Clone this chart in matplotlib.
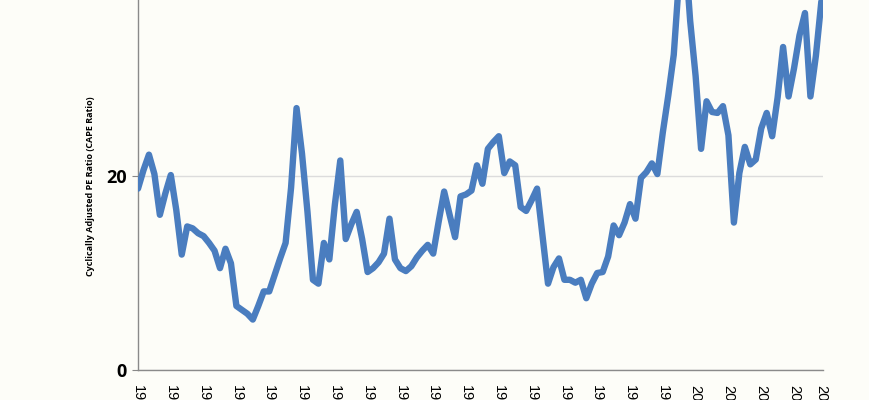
import matplotlib
matplotlib.use("Agg")
import matplotlib.pyplot as plt

years = list(range(1900, 2026))
cape = [
    18.7, 20.6, 22.2, 20.2, 16.0, 18.2, 20.1, 16.5, 11.9, 14.8,   # 1900-1909
    14.6, 14.1, 13.8, 13.1, 12.3, 10.5, 12.5, 11.0, 6.6, 6.2,     # 1910-1919
    5.8, 5.2, 6.6, 8.1, 8.1, 9.8, 11.5, 13.1, 18.8, 27.0,         # 1920-1929
    22.3, 16.3, 9.3, 8.9, 13.1, 11.4, 17.0, 21.6, 13.5, 15.0,     # 1930-1939
    16.3, 13.5, 10.1, 10.5, 11.1, 12.0, 15.6, 11.4, 10.5, 10.2,   # 1940-1949
    10.7, 11.6, 12.3, 12.9, 12.0, 15.3, 18.4, 16.0, 13.7, 17.9,   # 1950-1959
    18.1, 18.5, 21.1, 19.2, 22.8, 23.5, 24.1, 20.3, 21.5, 21.1,   # 1960-1969
    16.8, 16.4, 17.5, 18.7, 13.8, 8.9, 10.6, 11.5, 9.3, 9.3,      # 1970-1979
    9.0, 9.3, 7.4, 8.9, 10.0, 10.1, 11.7, 14.9, 13.9, 15.2,       # 1980-1989
    17.1, 15.6, 19.8, 20.4, 21.3, 20.2, 24.5, 28.3, 32.5, 40.6,   # 1990-1999
    43.8, 36.0, 30.3, 22.8, 27.7, 26.6, 26.5, 27.2, 24.2, 15.2,   # 2000-2009
    20.3, 23.0, 21.2, 21.7, 24.9, 26.5, 24.1, 28.1, 33.3, 28.2,   # 2010-2019
    31.1, 34.5, 36.8, 28.2, 32.4, 38.0,                           # 2020-2025
]
tick_years = list(range(1900, 2021, 6)) + [2025]
tick_labels = [str(y) for y in tick_years]
y_ticks = [0, 20, 40]
y_label = "Cyclically Adjusted PE Ratio (CAPE Ratio)"

bg = "#fdfdf8"
fig = plt.figure(figsize=(8.7, 4.0), dpi=100, facecolor=bg)
ax = fig.add_axes([138 / 870, 30 / 400, (823 - 138) / 870, 388 / 400])
ax.set_facecolor(bg)

ax.plot(years, cape, color="#4a7dbf", linewidth=4.6, solid_joinstyle="round",
        solid_capstyle="round", zorder=3)

ax.set_xlim(1900, 2025.3)
ax.set_ylim(0, 40)
ax.set_yticks(y_ticks)
ax.set_yticklabels([str(v) for v in y_ticks], fontsize=13, fontweight="bold",
                   family=["Open Sans", "DejaVu Sans"])
ax.set_xticks(tick_years)
ax.set_xticklabels(tick_labels, rotation=-90, fontsize=10.5,
                   family=["Liberation Sans", "DejaVu Sans"])
ax.tick_params(axis="x", length=0, pad=11)
ax.tick_params(axis="y", length=4, color="#888888", pad=4)

ax.grid(axis="y", color="#dcdcdc", linewidth=1.0, zorder=0)
for s in ["top", "right"]:
    ax.spines[s].set_visible(False)
for s in ["left", "bottom"]:
    ax.spines[s].set_color("#8a8a8a")
    ax.spines[s].set_linewidth(1.0)

fig.text(91 / 870, (400 - 186) / 400, y_label, rotation=90, ha="center",
         va="center", fontsize=6.5, fontweight="bold",
         family=["Open Sans", "DejaVu Sans"])

fig.savefig("out.png", dpi=100, facecolor=bg)
